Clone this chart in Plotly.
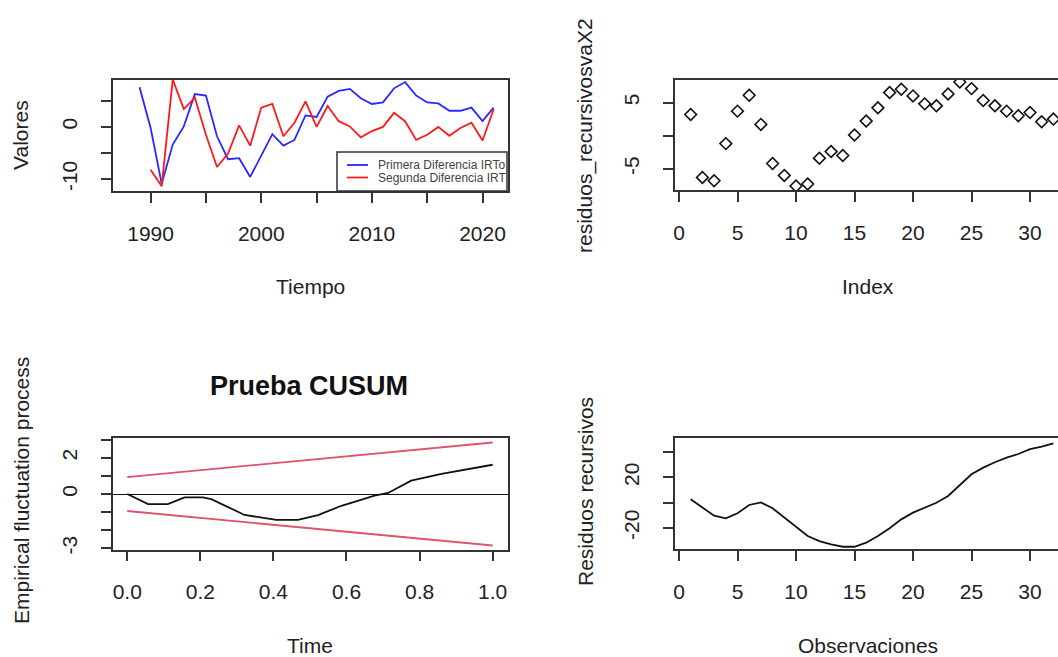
import plotly.graph_objects as go

# ---------------- data ----------------
years_blue = list(range(1989, 2022))
primera_dif = [7.6, -0.2, -10.9, -3.4, 0.1, 6.3, 6.0, -1.8, -6.2, -6.0, -9.6, -5.4, -1.4, -3.6,
               -2.5, 2.2, 1.9, 5.8, 6.9, 7.3, 5.5, 4.4, 4.7, 7.4, 8.6, 6.0, 4.7, 4.5, 3.1, 3.1,
               3.7, 1.1, 3.7]
years_red = list(range(1990, 2022))
segunda_dif = [-8.2, -11.4, 9.1, 3.4, 5.6, -1.5, -7.7, -5.1, 0.3, -3.6, 3.7, 4.4, -1.8, 0.8,
               4.9, 0.0, 4.0, 1.1, 0.1, -2.0, -0.8, 0.0, 2.7, 1.1, -2.5, -1.5, 0.0, -1.7, -0.2,
               0.8, -2.6, 3.4]

index_vals = list(range(1, 33))
residuos_rec = [3.2, -6.3, -6.8, -1.2, 3.7, 6.1, 1.7, -4.2, -6.0, -7.6, -7.3, -3.4, -2.4, -3.0,
                0.1, 2.2, 4.2, 6.5, 7.0, 6.0, 4.8, 4.5, 6.3, 8.1, 7.1, 5.3, 4.5, 3.7, 3.0, 3.5,
                2.1, 2.5]

cusum_t = [0.0, 0.057, 0.111, 0.157, 0.207, 0.23, 0.321, 0.376, 0.408, 0.467, 0.508, 0.522,
           0.586, 0.677, 0.714, 0.777, 0.86, 0.933, 1.0]
cusum_val = [0.0, -0.56, -0.56, -0.19, -0.19, -0.28, -1.16, -1.31, -1.43, -1.43, -1.21, -1.17,
             -0.65, -0.09, 0.06, 0.74, 1.12, 1.40, 1.62]
bound_t = [0.0, 1.0]
bound_upper = [0.94, 2.85]
bound_lower = [-0.94, -2.85]

obs_vals = list(range(1, 33))
residuos_acum = [2.7, -3.7, -10.3, -12.4, -8.4, -1.8, 0.3, -4.4, -11.6, -19.0, -26.4, -30.4,
                 -33.0, -34.9, -34.9, -31.7, -26.4, -20.3, -13.2, -7.9, -4.0, 0.0, 5.3, 14.0,
                 22.5, 27.8, 32.1, 35.7, 38.6, 42.4, 44.4, 47.1]

# tick labels
yt1_vals = [-10, -5, 0, 5]; yt1_text = ["-10", "", "0", ""]
xt1_vals = [1990, 1995, 2000, 2005, 2010, 2015, 2020]
xt1_text = ["1990", "", "2000", "", "2010", "", "2020"]
yt2_vals = [-5, 0, 5]; yt2_text = ["-5", "", "5"]
xt2_vals = [0, 5, 10, 15, 20, 25, 30]
xt2_text = ["0", "5", "10", "15", "20", "25", "30"]
yt3_vals = [-3, -2, -1, 0, 1, 2, 3]; yt3_text = ["-3", "", "", "0", "", "2", ""]
xt3_vals = [0.0, 0.2, 0.4, 0.6, 0.8, 1.0]
xt3_text = ["0.0", "0.2", "0.4", "0.6", "0.8", "1.0"]
yt4_vals = [-20, 0, 20, 40]; yt4_text = ["-20", "", "20", ""]

W, H = 1058, 657
def px(x): return x / W
def py(y): return 1 - y / H

FONT = "Liberation Sans, Arial, sans-serif"
TXT = "#222222"
BOX = "#333333"
LW = 1.8

fig = go.Figure()
fig.add_trace(go.Scatter(x=years_blue, y=primera_dif, mode="lines", line=dict(color="#2828ff", width=LW),
                         xaxis="x", yaxis="y", showlegend=False))
fig.add_trace(go.Scatter(x=years_red, y=segunda_dif, mode="lines", line=dict(color="#ff1a1a", width=LW),
                         xaxis="x", yaxis="y", showlegend=False))
fig.add_trace(go.Scatter(x=index_vals, y=residuos_rec, mode="markers",
                         marker=dict(symbol="diamond-open", size=9, color="#111111", line=dict(width=1.6)),
                         xaxis="x2", yaxis="y2", showlegend=False))
fig.add_trace(go.Scatter(x=bound_t, y=bound_upper, mode="lines", line=dict(color="#DF536B", width=LW),
                         xaxis="x3", yaxis="y3", showlegend=False))
fig.add_trace(go.Scatter(x=bound_t, y=bound_lower, mode="lines", line=dict(color="#DF536B", width=LW),
                         xaxis="x3", yaxis="y3", showlegend=False))
fig.add_trace(go.Scatter(x=cusum_t, y=cusum_val, mode="lines", line=dict(color="#111111", width=LW),
                         xaxis="x3", yaxis="y3", showlegend=False))
fig.add_trace(go.Scatter(x=obs_vals, y=residuos_acum, mode="lines", line=dict(color="#111111", width=LW),
                         xaxis="x4", yaxis="y4", showlegend=False))

def xax(domain, rng, vals, text, anchor, mirror=True):
    return dict(domain=domain, range=rng, tickmode="array", tickvals=vals, ticktext=text,
                ticks="outside", ticklen=10, tickwidth=1.5, tickcolor=BOX,
                showline=True, linecolor=BOX, linewidth=1.5, mirror=mirror,
                showgrid=False, zeroline=False, anchor=anchor, automargin=False,
                tickfont=dict(family=FONT, size=21, color=TXT), ticklabelstandoff=13)

def yax(domain, rng, vals, text, anchor, mirror=True):
    return dict(domain=domain, range=rng, tickmode="array", tickvals=vals, ticktext=text,
                ticks="outside", ticklen=10, tickwidth=1.5, tickcolor=BOX,
                showline=True, linecolor=BOX, linewidth=1.5, mirror=mirror,
                showgrid=False, zeroline=False, anchor=anchor, tickangle=-90, automargin=False,
                tickfont=dict(family=FONT, size=21, color=TXT), ticklabelstandoff=16)

xr2 = [(675 - 679) / 11.7, (W - 679) / 11.7]

fig.update_layout(
    width=W, height=H, autosize=False, margin=dict(l=0, r=0, t=0, b=0, pad=0),
    paper_bgcolor="white", plot_bgcolor="white", showlegend=False,
    xaxis=xax([px(113), px(508)], [1986.6, 2022.3], xt1_vals, xt1_text, "y"),
    yaxis=yax([py(191), py(80)], [-12.3, 9.0], yt1_vals, yt1_text, "x"),
    xaxis2=xax([px(675), 1.0], xr2, xt2_vals, xt2_text, "y2"),
    yaxis2=yax([py(190), py(80)], [-8.2, 8.4], yt2_vals, yt2_text, "x2", mirror=False),
    xaxis3=xax([px(113), px(508)], [-0.039, 1.042], xt3_vals, xt3_text, "y3"),
    yaxis3=yax([py(549.5), py(438)], [-3.07, 3.1], yt3_vals, yt3_text, "x3"),
    xaxis4=xax([px(675), 1.0], xr2, xt2_vals, xt2_text, "y4"),
    yaxis4=yax([py(549), py(438)], [-36.7, 51.3], yt4_vals, yt4_text, "x4", mirror=False),
)
fig.update_layout(yaxis3=dict(zeroline=True, zerolinecolor="#111111", zerolinewidth=1.3))

# legend box for first panel
shapes = [
    dict(type="rect", xref="paper", yref="paper", x0=px(337), x1=px(507), y0=py(191), y1=py(152),
         line=dict(color=BOX, width=1.5), fillcolor="white", layer="above"),
    dict(type="line", xref="paper", yref="paper", x0=px(347), x1=px(368), y0=py(165), y1=py(165),
         line=dict(color="#2828ff", width=LW)),
    dict(type="line", xref="paper", yref="paper", x0=px(347), x1=px(368), y0=py(177.5), y1=py(177.5),
         line=dict(color="#ff1a1a", width=LW)),
]
fig.update_layout(shapes=shapes)

ann = []
def label(text, x, y, size=21, angle=0, bold=False, xanchor="center", color=TXT):
    ann.append(dict(text=("<b>%s</b>" % text) if bold else text, x=px(x), y=py(y),
                    xref="paper", yref="paper", showarrow=False, textangle=angle,
                    xanchor=xanchor, yanchor="middle",
                    font=dict(family=FONT, size=size, color=color)))

label("Primera Diferencia IRTo", 376, 165, size=12, xanchor="left", color="#444444")
label("Segunda Diferencia IRT", 376, 178, size=12, xanchor="left", color="#444444")
label("Valores", 21, 135, angle=-90)
label("Tiempo", 310, 287)
label("residuos_recursivosvaX2", 585, 136, angle=-90)
label("Index", 868, 287)
label("Prueba CUSUM", 309, 386, size=27, bold=True, color="#111111")
label("Empirical fluctuation process", 21, 491, angle=-90)
label("Time", 310, 645)
label("Residuos recursivos", 585, 492, angle=-90)
label("Observaciones", 868, 645)
fig.update_layout(annotations=ann)

fig.write_html("out.html", config={"displayModeBar": False, "responsive": False},
               post_script="document.body.style.margin='0px';document.body.style.overflow='hidden';")
